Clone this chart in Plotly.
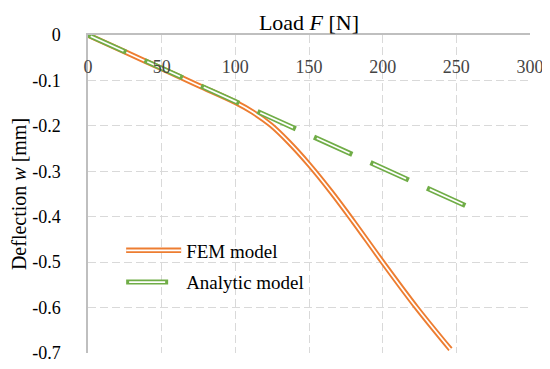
import plotly.graph_objects as go

# ---- data ----
load_fem = [0, 25, 50, 75, 100, 112, 124, 136, 150, 165, 180, 200, 223, 246]
defl_fem = [0, -0.037, -0.074, -0.111, -0.148, -0.17, -0.198, -0.235, -0.285,
            -0.345, -0.41, -0.5, -0.6, -0.692]
load_ana = [0, 258]
defl_ana = [0, -0.378]

x_ticks = [0, 50, 100, 150, 200, 250, 300]
y_ticks = [0, -0.1, -0.2, -0.3, -0.4, -0.5, -0.6, -0.7]
y_tick_text = ["0", "-0.1", "-0.2", "-0.3", "-0.4", "-0.5", "-0.6", "-0.7"]

series_names = ["FEM model", "Analytic model"]

ORANGE = "#ED7D31"
GREEN = "#70AD47"
GRID = "#D9D9D9"
AXIS = "#BFBFBF"
FONT = "Liberation Serif"

fig = go.Figure()

# FEM: compound line (orange outer, white inner)
fig.add_trace(go.Scatter(x=load_fem, y=defl_fem, mode="lines", name=series_names[0],
                         line=dict(color=ORANGE, width=5.5, shape="spline"),
                         legend="legend", legendgroup="fem", hoverinfo="skip"))
fig.add_trace(go.Scatter(x=load_fem, y=defl_fem, mode="lines", name=series_names[0],
                         line=dict(color="white", width=1.7, shape="spline"),
                         legend="legend2", legendgroup="fem2", hoverinfo="skip"))
# Analytic: dashed compound line
fig.add_trace(go.Scatter(x=load_ana, y=defl_ana, mode="lines", name=series_names[1],
                         line=dict(color=GREEN, width=5, dash="42px,20px"),
                         legend="legend", legendgroup="ana", hoverinfo="skip"))
fig.add_trace(go.Scatter(x=load_ana, y=defl_ana, mode="lines", name=series_names[1],
                         line=dict(color="white", width=1.7, dash="0px,3px,36px,23px"),
                         legend="legend2", legendgroup="ana2", hoverinfo="skip"))

legend_common = dict(x=0.075, y=0.382, xanchor="left", yanchor="top",
                     bgcolor="rgba(0,0,0,0)", borderwidth=0, itemwidth=55,
                     tracegroupgap=4)

# the page body has an 8px margin, so the figure is 8px smaller than the window
fig.update_layout(
    width=542, height=361,
    margin=dict(l=80, r=20, t=27, b=16),
    paper_bgcolor="white", plot_bgcolor="white",
    font=dict(family=FONT, size=18, color="#000000"),
    showlegend=True,
    legend=dict(**legend_common, font=dict(family=FONT, size=19, color="#000000")),
    legend2=dict(**legend_common, font=dict(family=FONT, size=19, color="rgba(0,0,0,0)")),
    xaxis=dict(
        range=[0, 300], side="top", tickmode="array", tickvals=x_ticks,
        ticklabelposition="inside", ticklabeloverflow="allow", ticklabelstandoff=26,
        ticks="", showline=True, linecolor=AXIS, linewidth=1.5,
        showgrid=True, gridcolor=GRID, gridwidth=1.3, griddash="8px,4px",
        zeroline=False, tickfont=dict(size=18),
        title=dict(text="Load <i>F</i> [N]", font=dict(size=22), standoff=20),
        automargin=False,
    ),
    yaxis=dict(
        range=[-0.7, 0], tickmode="array", tickvals=y_ticks, ticktext=y_tick_text,
        ticks="", ticklabelstandoff=22, showline=True, linecolor=AXIS, linewidth=1.5,
        showgrid=True, gridcolor=GRID, gridwidth=1.3, griddash="8px,4px",
        zeroline=False, tickfont=dict(size=18),
        title=dict(text="Deflection <i>w</i> [mm]", font=dict(size=20), standoff=0),
        automargin=False,
    ),
)

fig.write_html("out.html")
